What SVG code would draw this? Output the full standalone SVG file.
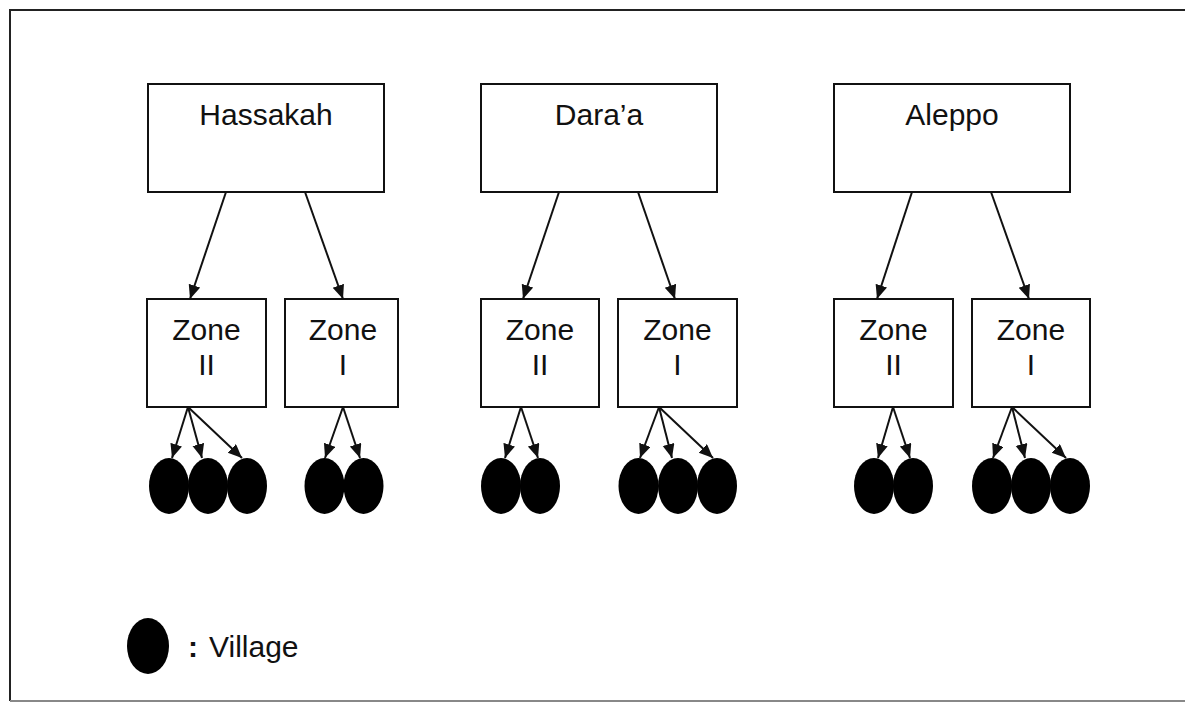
<svg xmlns="http://www.w3.org/2000/svg" width="1185" height="703" viewBox="0 0 1185 703">
<style>
.box{fill:#fff;stroke:#111;stroke-width:2}
.lbl{font-family:"Liberation Sans",Arial,sans-serif;font-size:30px;fill:#111;text-anchor:middle}
.con{stroke:#111;stroke-width:2;fill:none;marker-end:url(#ah)}
.vil{fill:#000}
</style>
<defs>
<marker id="ah" markerUnits="userSpaceOnUse" markerWidth="16" markerHeight="13" refX="14" refY="6" orient="auto">
<path d="M0,0 L14,6 L0,12 z" fill="#111"/>
</marker>
</defs>
<rect width="1185" height="703" fill="#fff"/>
<path d="M1185,10 H10 V701" fill="none" stroke="#222" stroke-width="2"/>
<path d="M10,701 H1185" fill="none" stroke="#888" stroke-width="2"/>

<g id="hassakah"><rect class="box" x="148" y="84" width="236" height="108"/><text class="lbl" x="266" y="125">Hassakah</text></g>
<g id="daraa"><rect class="box" x="481" y="84" width="236" height="108"/><text class="lbl" x="599" y="125">Dara’a</text></g>
<g id="aleppo"><rect class="box" x="834" y="84" width="236" height="108"/><text class="lbl" x="952" y="125">Aleppo</text></g>

<g id="h-zone2"><rect class="box" x="147" y="299" width="119" height="108"/><text class="lbl" x="206.5" y="340">Zone</text><text class="lbl" x="206.5" y="375">II</text></g>
<g id="h-zone1"><rect class="box" x="285" y="299" width="113" height="108"/><text class="lbl" x="343" y="340">Zone</text><text class="lbl" x="343" y="375">I</text></g>
<g id="d-zone2"><rect class="box" x="481" y="299" width="118" height="108"/><text class="lbl" x="540" y="340">Zone</text><text class="lbl" x="540" y="375">II</text></g>
<g id="d-zone1"><rect class="box" x="618" y="299" width="119" height="108"/><text class="lbl" x="677.5" y="340">Zone</text><text class="lbl" x="677.5" y="375">I</text></g>
<g id="a-zone2"><rect class="box" x="834" y="299" width="119" height="108"/><text class="lbl" x="893.5" y="340">Zone</text><text class="lbl" x="893.5" y="375">II</text></g>
<g id="a-zone1"><rect class="box" x="972" y="299" width="118" height="108"/><text class="lbl" x="1031" y="340">Zone</text><text class="lbl" x="1031" y="375">I</text></g>

<g id="villages">
<ellipse class="vil" cx="169" cy="486" rx="20" ry="28"/>
<ellipse class="vil" cx="208" cy="486" rx="20" ry="28"/>
<ellipse class="vil" cx="247" cy="486" rx="20" ry="28"/>
<ellipse class="vil" cx="324.5" cy="486" rx="20" ry="28"/>
<ellipse class="vil" cx="363.5" cy="486" rx="20" ry="28"/>
<ellipse class="vil" cx="501" cy="486" rx="20" ry="28"/>
<ellipse class="vil" cx="540" cy="486" rx="20" ry="28"/>
<ellipse class="vil" cx="638.5" cy="486" rx="20" ry="28"/>
<ellipse class="vil" cx="678" cy="486" rx="20" ry="28"/>
<ellipse class="vil" cx="717" cy="486" rx="20" ry="28"/>
<ellipse class="vil" cx="874" cy="486" rx="20" ry="28"/>
<ellipse class="vil" cx="913" cy="486" rx="20" ry="28"/>
<ellipse class="vil" cx="992" cy="486" rx="20" ry="28"/>
<ellipse class="vil" cx="1031" cy="486" rx="20" ry="28"/>
<ellipse class="vil" cx="1070" cy="486" rx="20" ry="28"/>
</g>

<g id="connectors">
<line class="con" x1="226" y1="192" x2="190" y2="299"/>
<line class="con" x1="305" y1="192" x2="343" y2="299"/>
<line class="con" x1="559" y1="192" x2="523" y2="299"/>
<line class="con" x1="638" y1="192" x2="675" y2="299"/>
<line class="con" x1="912" y1="192" x2="877" y2="299"/>
<line class="con" x1="991" y1="192" x2="1029" y2="299"/>

<line class="con" x1="188" y1="407" x2="172" y2="458"/>
<line class="con" x1="188" y1="407" x2="202" y2="458"/>
<line class="con" x1="188" y1="407" x2="242" y2="458"/>
<line class="con" x1="343" y1="407" x2="325" y2="458"/>
<line class="con" x1="343" y1="407" x2="360" y2="458"/>
<line class="con" x1="521" y1="407" x2="505" y2="458"/>
<line class="con" x1="521" y1="407" x2="538" y2="458"/>
<line class="con" x1="659" y1="407" x2="640" y2="458"/>
<line class="con" x1="659" y1="407" x2="672" y2="458"/>
<line class="con" x1="659" y1="407" x2="713" y2="458"/>
<line class="con" x1="893" y1="407" x2="878" y2="458"/>
<line class="con" x1="893" y1="407" x2="910" y2="458"/>
<line class="con" x1="1012" y1="407" x2="993" y2="458"/>
<line class="con" x1="1012" y1="407" x2="1025" y2="458"/>
<line class="con" x1="1012" y1="407" x2="1066" y2="458"/>
</g>

<g id="legend">
<ellipse class="vil" cx="148" cy="646" rx="21" ry="28"/>
<text x="193" y="657" class="lbl" font-weight="bold">:</text>
<text x="209" y="657" style="font-family:'Liberation Sans',Arial,sans-serif;font-size:30px;fill:#111">Village</text>
</g>
</svg>
